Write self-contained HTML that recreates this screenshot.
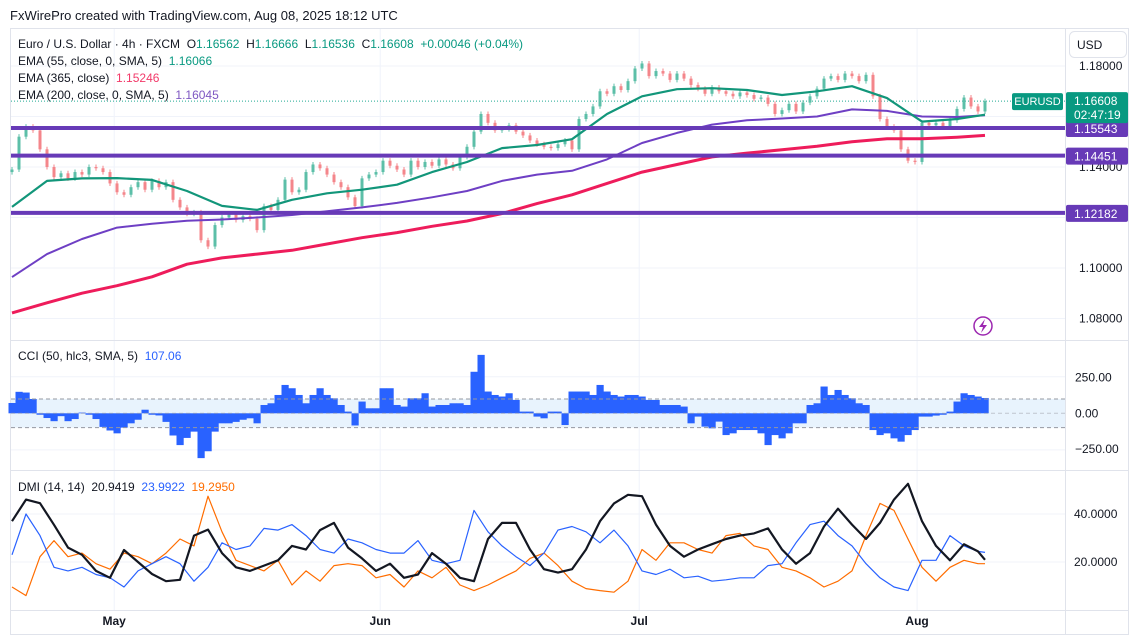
<!DOCTYPE html>
<html><head><meta charset="utf-8"><style>
body{margin:0;background:#fff;width:1129px;height:638px;overflow:hidden;font-family:"Liberation Sans",sans-serif}
svg text{font-family:"Liberation Sans",sans-serif}
</style></head><body>
<svg id="c" width="1129" height="638" xmlns="http://www.w3.org/2000/svg">
<text x="10" y="20" font-size="13" fill="#131722">FxWirePro created with TradingView.com, Aug 08, 2025 18:12 UTC</text>
<rect x="10.5" y="28.5" width="1118" height="606" fill="none" stroke="#e0e3eb"/>
<g id="grid"></g>
<g id="bands"></g>
<g id="main"></g>
<g id="cci"></g>
<g id="dmi"></g>
<g id="labels"></g>
</svg>
<script>
const closes=[1.1390,1.1520,1.1560,1.1545,1.1470,1.1400,1.1360,1.1375,1.1355,1.1380,1.1370,1.1400,1.1395,1.1380,1.1335,1.1300,1.1290,1.1320,1.1340,1.1310,1.1345,1.1320,1.1340,1.1270,1.1240,1.1215,1.1220,1.1110,1.1085,1.1170,1.1200,1.1215,1.1190,1.1205,1.1195,1.1150,1.1245,1.1230,1.1270,1.1350,1.1300,1.1310,1.1380,1.1410,1.1395,1.1370,1.1340,1.1320,1.1280,1.1245,1.1355,1.1370,1.1380,1.1425,1.1405,1.1390,1.1370,1.1425,1.1400,1.1420,1.1405,1.1430,1.1410,1.1395,1.1440,1.1480,1.1540,1.1610,1.1575,1.1545,1.1550,1.1565,1.1540,1.1525,1.1505,1.1490,1.1480,1.1475,1.1490,1.1505,1.1470,1.1590,1.1610,1.1640,1.1700,1.1690,1.1720,1.1705,1.1740,1.1790,1.1810,1.1760,1.1780,1.1770,1.1745,1.1770,1.1750,1.1725,1.1710,1.1690,1.1715,1.1700,1.1690,1.1680,1.1695,1.1685,1.1670,1.1675,1.1650,1.1610,1.1625,1.1650,1.1620,1.1655,1.1680,1.1710,1.1750,1.1760,1.1745,1.1770,1.1760,1.1740,1.1765,1.1680,1.1590,1.1560,1.1545,1.1470,1.1425,1.1420,1.1575,1.1565,1.1575,1.1560,1.1585,1.1630,1.1675,1.1640,1.1620,1.1661];
const ema55=[1.1242,1.1345,1.1355,1.1356,1.1349,1.1305,1.1246,1.1230,1.1270,1.1296,1.1310,1.1330,1.1380,1.1420,1.1475,1.1487,1.1510,1.1610,1.1680,1.1708,1.1712,1.1705,1.1685,1.1700,1.1720,1.1673,1.1580,1.1590,1.1607];
const ema200=[1.0964,1.1055,1.1115,1.1160,1.1175,1.1187,1.1192,1.1200,1.1210,1.1225,1.1240,1.1258,1.1280,1.1305,1.1345,1.1370,1.1385,1.1430,1.1495,1.1535,1.1568,1.1585,1.1592,1.1600,1.1628,1.1622,1.1600,1.1598,1.1605];
const ema365=[1.0822,1.0862,1.0900,1.0930,1.0965,1.1015,1.1040,1.1055,1.1070,1.1095,1.1120,1.1140,1.1165,1.1186,1.1216,1.1255,1.1290,1.1335,1.1380,1.1410,1.1440,1.1455,1.1468,1.1482,1.1500,1.1512,1.1512,1.1518,1.1525];
const levels=[1.15543,1.14451,1.12182];
const priceTicks=[1.18,1.16,1.14,1.12,1.10,1.08];
const priceTickLabels=["1.18000","","1.14000","","1.10000","1.08000"];
const cciVals=[72,150,145,100,-10,-33,-55,-20,-55,-40,5,-10,-40,-95,-120,-140,-100,-70,-45,25,-10,-15,-60,-155,-222,-172,-128,-313,-265,-128,-70,-70,-60,-45,-35,-70,58,70,128,198,175,128,70,128,175,128,105,58,12,-85,82,35,35,175,175,58,47,105,105,140,47,58,58,70,70,58,290,408,152,128,117,140,93,12,12,-23,-35,12,12,-82,152,152,152,128,198,152,128,117,128,128,117,93,93,58,58,58,47,-70,-23,-93,-105,-58,-152,-140,-117,-117,-117,-140,-222,-152,-175,-140,-70,-70,58,70,187,128,163,128,105,70,58,-117,-152,-140,-175,-198,-152,-117,-23,-23,-16,-10,12,82,140,128,117,107];
const cciTicks=[250,0,-250];
const cciTickLabels=["250.00","0.00","\u2212250.00"];
const adx=[37,46,44.5,35.5,26,23,16.3,13.4,25,20,15,12,12.6,31,33.5,23.7,17.8,16.3,18.5,20.7,26.7,25.2,33.3,36.3,26,21.5,16.3,19.3,13.4,14.8,23.7,19.3,13.4,12,29.6,36.3,36.3,25.2,17,15.6,17,25.2,37,44.4,48,47.4,35.6,26.7,22.2,25.2,27.4,29.6,31,31.9,34,25.2,19.3,23.7,34.8,42.2,35.6,29.6,36.3,46,52.6,37,26.7,20.7,27.4,24.4,20.9];
const plusDI=[23,40,31,17.8,16.3,17.8,14.8,13.4,9.6,16.3,19.3,22.2,19.3,12,17.8,28,25.2,26.7,34,33.3,35.6,31,25.2,23.7,29.6,28,25.2,23.7,23.7,28.9,20.7,19.3,20.7,41.5,32.6,26.7,22.2,18.5,23.7,33.3,34.8,32.6,28,33.3,26.7,16.3,14.8,17,13.4,14.1,12,12.6,13.4,13.4,18.5,19.3,28,35.6,37,31,26.7,19.3,13.4,9.6,8.1,20.7,20.7,31,26.7,24.4,24.0];
const minusDI=[9.6,6,22.2,28.9,22.2,23.7,19.3,17,23.7,22.2,19.3,23.7,29.6,26.7,47.4,32.6,20.7,18.5,16.3,20.7,10.4,16.3,12,18.5,19.3,18.5,13.4,14.8,9.6,16.3,13.4,17.8,10.4,8.1,10.4,13.4,16.3,21.5,23.7,18.5,12,8.9,8.1,7.4,12,25.2,20.7,28,28,25.2,23.7,31,31.9,26.7,25.2,17.8,16.3,13.4,9.6,12,16.3,31,44.4,41.5,29.6,17.8,12,17.8,20.7,19.3,19.3];
const dmiTicks=[40,20];
const dmiTickLabels=["40.0000","20.0000"];
const months=["May","Jun","Jul","Aug"];
const monthBars=[14.6,52.6,89.6,129.3];

const NS="http://www.w3.org/2000/svg";
function mk(tag,attrs,parent){const e=document.createElementNS(NS,tag);for(const k in attrs)e.setAttribute(k,attrs[k]);parent.appendChild(e);return e;}
const bx=i=>12+7*i;
const py=p=>66+(1.18-p)*2525;
const cy=v=>413.3-v*0.1432;
const dy=v=>562-(v-20)*2.4;
const emaX=k=>bx(Math.min(5*k,closes.length-1));
const dmiX=k=>bx(Math.min(2*k,closes.length-1));
const L=11,R=1065;
const G=id=>document.getElementById(id);

const grid=G('grid');
monthBars.forEach((m,i)=>{const l=mk('line',{x1:bx(m),x2:bx(m),y1:29,y2:610,stroke:'#f0f3fa'},grid);

});
priceTicks.forEach(p=>{const l=mk('line',{x1:L,x2:R,y1:py(p),y2:py(p),stroke:'#f0f3fa'},grid);

});
[340.5,470.5,610.5].forEach(y=>{const l=mk('line',{x1:10,x2:1128,y1:y,y2:y,stroke:'#e0e3eb'},grid);

});
mk('line',{x1:R+0.5,x2:R+0.5,y1:29,y2:634,stroke:'#e0e3eb'},grid);
[376.7,449.9].forEach(y=>{mk('line',{x1:L,x2:R,y1:y,y2:y,stroke:'#f0f3fa'},grid);});
dmiTicks.forEach(v=>{mk('line',{x1:L,x2:R,y1:dy(v),y2:dy(v),stroke:'#f0f3fa'},grid);});

const main=G('main');
mk('line',{x1:L,x2:R,y1:py(closes[closes.length-1]),y2:py(closes[closes.length-1]),stroke:'#22ab94','stroke-dasharray':'1,2'},main);
closes.forEach((c,i)=>{const o=i?closes[i-1]:c-0.001;const up=c>=o;const col=up?'#5cbfa8':'#f4868b';
const hi=Math.max(o,c)+0.0010,lo=Math.min(o,c)-0.0010;
const g=mk('g',{},main);


mk('line',{x1:bx(i),x2:bx(i),y1:py(hi),y2:py(lo),stroke:col,'stroke-width':1},g);
const t=py(Math.max(o,c)),b=py(Math.min(o,c));
mk('rect',{x:bx(i)-1.5,y:t,width:3,height:Math.max(1,b-t),fill:col},g);});
function line(arr,xf,yf,col,w,name,parent){const d=arr.map((v,k)=>(k?'L':'M')+xf(k).toFixed(1)+' '+yf(v).toFixed(1)).join(' ');
const p=mk('path',{d:d,fill:'none',stroke:col,'stroke-width':w,'stroke-linejoin':'round'},parent);

return p;}
line(ema365,emaX,py,'#ee1c5b',3,'ema-365-line',main);
line(ema200,emaX,py,'#6e3fc4',2,'ema-200-line',main);
line(ema55,emaX,py,'#12967a',2.2,'ema-55-line',main);
levels.forEach(v=>{const l=mk('line',{x1:L,x2:R,y1:py(v),y2:py(v),stroke:'#673ab7','stroke-width':4},main);

});

const cg=G('cci');
mk('rect',{x:L,y:cy(100),width:R-L,height:cy(-100)-cy(100),fill:'#e8f3fd'},cg);
cciVals.forEach((v,i)=>{const y0=cy(0),y1=cy(v);const r=mk('rect',{x:bx(i)-3.5,y:Math.min(y0,y1),width:7.2,height:Math.abs(y1-y0),fill:'#2962ff'},cg);

});
[100,-100].forEach(v=>{mk('line',{x1:L,x2:R,y1:cy(v),y2:cy(v),stroke:'#9598a1','stroke-dasharray':'4,3'},cg);});
mk('line',{x1:L,x2:R,y1:cy(0),y2:cy(0),stroke:'#9598a1','stroke-dasharray':'4,3','stroke-opacity':0.5},cg);

const dg=G('dmi');
line(minusDI,dmiX,dy,'#ff6d00',1.2,'dmi-minus-di-line',dg);
line(plusDI,dmiX,dy,'#2962ff',1.2,'dmi-plus-di-line',dg);
line(adx,dmiX,dy,'#131722',2.2,'dmi-adx-line',dg);

const lg=G('labels');
function txt(x,y,s,size,col,name,anchor,weight){const t=mk('text',{x:x,y:y,'font-size':size,fill:col,'text-anchor':anchor||'start','font-weight':weight||'normal'},lg);t.textContent=s;

return t;}
priceTicks.forEach((p,i)=>{if(priceTickLabels[i])txt(1079,py(p)+4,priceTickLabels[i],12,'#131722','price-tick-label');});
cciTicks.forEach((v,i)=>txt(1075,cy(v)+4,cciTickLabels[i],12,'#131722','cci-tick-label'));
dmiTicks.forEach((v,i)=>txt(1074,dy(v)+4,dmiTickLabels[i],12,'#131722','dmi-tick-label'));
months.forEach((m,i)=>txt(bx(monthBars[i]),625,m,12,'#131722','month-label','middle','bold'));
levels.forEach(v=>{const r=mk('rect',{x:1066,y:py(v)-8,width:62,height:17,fill:'#673ab7',rx:2},lg);


txt(1074,py(v)+5,v.toFixed(5),12,'#fff','level-price-text');});
const cp=closes[closes.length-1];
let r=mk('rect',{x:1066,y:py(cp)-9,width:62,height:31,fill:'#089981',rx:2},lg);


txt(1074,py(cp)+4,'1.16608',12,'#fff','current-price-text');
txt(1074,py(cp)+18,'02:47:19',12,'#fff','countdown-text');
r=mk('rect',{x:1012,y:py(cp)-8,width:51,height:17,fill:'#089981',rx:2},lg);


txt(1037.5,py(cp)+4,'EURUSD',11,'#fff','symbol-tag-text','middle');
r=mk('rect',{x:1069.5,y:31.5,width:57,height:26,fill:'#fff',stroke:'#e0e3eb',rx:5},lg);


txt(1077,49,'USD',12,'#131722','currency-button-label');
const ic=mk('g',{},lg);


mk('circle',{cx:983,cy:326,r:9,fill:'#fff',stroke:'#9c27b0','stroke-width':1.5},ic);
mk('path',{d:'M985 319 L979 327 L983 327 L981 333 L987 325 L983 325 Z',fill:'#9c27b0'},ic);
</script>
<div style="position:absolute;left:18px;top:36px;font-size:12px;line-height:17px;color:#131722;font-family:'Liberation Sans',sans-serif">
<div>Euro / U.S. Dollar · 4h · FXCM&nbsp; O<span style="color:#089981">1.16562</span>&nbsp; H<span style="color:#089981">1.16666</span>&nbsp; L<span style="color:#089981">1.16536</span>&nbsp; C<span style="color:#089981">1.16608</span>&nbsp; <span style="color:#089981">+0.00046 (+0.04%)</span></div>
<div>EMA (55, close, 0, SMA, 5)&nbsp; <span style="color:#089981">1.16066</span></div>
<div>EMA (365, close)&nbsp; <span style="color:#f23a6a">1.15246</span></div>
<div>EMA (200, close, 0, SMA, 5)&nbsp; <span style="color:#7e57c2">1.16045</span></div>
</div>
<div style="position:absolute;left:18px;top:349px;font-size:12px;color:#131722;font-family:'Liberation Sans',sans-serif">CCI (50, hlc3, SMA, 5)&nbsp; <span style="color:#2962ff">107.06</span></div>
<div style="position:absolute;left:18px;top:480px;font-size:12px;color:#131722;font-family:'Liberation Sans',sans-serif">DMI (14, 14)&nbsp; 20.9419&nbsp; <span style="color:#2962ff">23.9922</span>&nbsp; <span style="color:#ff6d00">19.2950</span></div>
</body></html>
